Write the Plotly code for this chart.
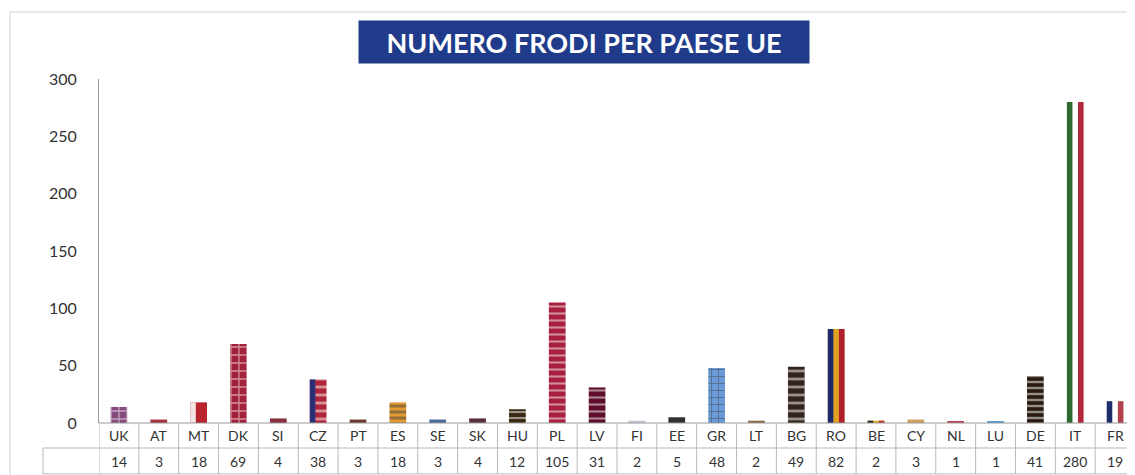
import plotly.graph_objects as go

# Data
countries = ["UK", "AT", "MT", "DK", "SI", "CZ", "PT", "ES", "SE", "SK", "HU", "PL", "LV",
             "FI", "EE", "GR", "LT", "BG", "RO", "BE", "CY", "NL", "LU", "DE", "IT", "FR"]
frauds = [14, 3, 18, 69, 4, 38, 3, 18, 3, 4, 12, 105, 31,
          2, 5, 48, 2, 49, 82, 2, 3, 1, 1, 41, 280, 19]

# Flag-like fills (body of the bar)
body_col = ["#854a7e", "#a8323e", "#b8232c", "#a3213a", "#8a3040", "#b0253a", "#6a3a30",
            "#e39a30", "#4a6a9a", "#5a3040", "#3a2a12", "#a81f40", "#5e0e2c",
            "#c0c8d8", "#303030", "#6a9ad8", "#8a6a40", "#33231b", "#e0a020", "#e0b020",
            "#d0a060", "#c04050", "#50a0d0", "#2a1a10", "rgba(255,255,255,0)", "rgba(255,255,255,0)"]
pat_shape = ["+", "", "", "+", "", "-", "", "-", "", "", "-", "-", "-",
             "", "", "+", "", "-", "", "", "", "", "", "-", "", ""]
pat_fg = ["#eed4e6", "white", "white", "white", "white", "white", "white",
          "#c83228", "white", "white", "#d8b878", "white", "white",
          "white", "white", "white", "white", "white", "white", "white",
          "white", "white", "white", "#e39a3a", "white", "white"]
pat_size = [8, 6, 6, 8, 6, 8, 6, 6, 6, 6, 6, 7, 7, 6, 6, 7, 6, 8, 6, 6, 6, 6, 6, 6, 6, 6]
pat_sol = [0.3, 0.3, 0.3, 0.3, 0.3, 0.35, 0.3, 0.5, 0.3, 0.3, 0.35, 0.3, 0.3,
           0.3, 0.3, 0.25, 0.3, 0.35, 0.3, 0.3, 0.3, 0.3, 0.3, 0.4, 0.3, 0.3]

# Vertical strips for split flags
left_strip = {"MT": "#f3e4e4", "CZ": "#2a2f78", "RO": "#1a2a6a", "BE": "#202020",
              "IT": "#2e6a2e", "FR": "#1e2c6c"}
right_strip = {"RO": "#b02030", "BE": "#c03030", "IT": "#b0283a", "FR": "#b0404a"}

bar_w = 0.42
strip = bar_w / 3

fig = go.Figure()
fig.add_trace(go.Bar(
    x=countries, y=frauds, width=bar_w,
    marker=dict(color=body_col, line=dict(width=0),
                pattern=dict(shape=pat_shape, fgcolor=pat_fg, bgcolor=body_col,
                             size=pat_size, solidity=pat_sol, fillmode="overlay")),
    hoverinfo="x+y", showlegend=False,
))
for strips, off in [(left_strip, -bar_w / 2), (right_strip, bar_w / 2 - strip)]:
    xs = [c for c in countries if c in strips]
    ys = [v for c, v in zip(countries, frauds) if c in strips]
    fig.add_trace(go.Bar(
        x=xs, y=ys, width=strip, offset=off,
        marker=dict(color=[strips[c] for c in xs], line=dict(width=0)),
        hoverinfo="x+y", showlegend=False,
    ))

# table under the chart
line_col = "#b8b8b8"
y_mid = -0.0727
y_bot = -0.148
shapes = [
    dict(type="line", xref="x", yref="paper", x0=-0.5, x1=len(countries) - 0.5, y0=0, y1=0,
         line=dict(color="#999999", width=1)),
    dict(type="line", xref="paper", yref="paper", x0=-0.054, x1=1, y0=y_mid, y1=y_mid,
         line=dict(color=line_col, width=1)),
    dict(type="line", xref="paper", yref="paper", x0=-0.054, x1=1, y0=y_bot, y1=y_bot,
         line=dict(color=line_col, width=1)),
    dict(type="line", xref="paper", yref="paper", x0=-0.054, x1=-0.054, y0=y_mid, y1=y_bot,
         line=dict(color=line_col, width=1)),
    # outer frame
    dict(type="rect", xref="paper", yref="paper", x0=-0.0859, x1=1.02, y0=-0.25, y1=1.1948,
         line=dict(color="#d4d4d4", width=1), layer="below"),
]
for i in range(len(countries) + 1):
    shapes.append(dict(type="line", xref="x", yref="paper", x0=i - 0.5, x1=i - 0.5,
                       y0=0, y1=y_bot, line=dict(color=line_col, width=1)))

annotations = []
for c, v in zip(countries, frauds):
    annotations.append(dict(x=c, y=-0.0363, xref="x", yref="paper", text=c, showarrow=False,
                            xanchor="center", yanchor="middle",
                            font=dict(family="Lato", size=14, color="#333333")))
    annotations.append(dict(x=c, y=-0.1105, xref="x", yref="paper", text=str(v), showarrow=False,
                            xanchor="center", yanchor="middle",
                            font=dict(family="Lato", size=14, color="#333333")))

annotations.append(dict(x=0.468, y=1.1076, xref="paper", yref="paper",
                        xanchor="center", yanchor="middle",
                        text="<b>NUMERO FRODI PER PAESE UE</b>", showarrow=False,
                        width=448, height=40, bgcolor="#1f3b8a", valign="middle",
                        font=dict(family="Lato", size=27, color="white")))

# page body has an 8px margin, so the figure is 8px smaller than the window
fig.update_layout(
    width=1127, height=467,
    margin=dict(l=91, r=0, t=71, b=52),
    paper_bgcolor="white", plot_bgcolor="white",
    barmode="overlay",
    shapes=shapes, annotations=annotations,
    xaxis=dict(range=[-0.5, len(countries) - 0.5], showticklabels=False, showgrid=False,
               zeroline=False, showline=False, fixedrange=True),
    yaxis=dict(range=[0, 300], dtick=50, showgrid=False, zeroline=False,
               showline=True, linecolor="#999999", linewidth=1, ticks="",
               ticklabelstandoff=18,
               tickfont=dict(family="Lato", size=16, color="#333333")),
    font=dict(family="Lato"),
)

fig.write_html("out.html")
